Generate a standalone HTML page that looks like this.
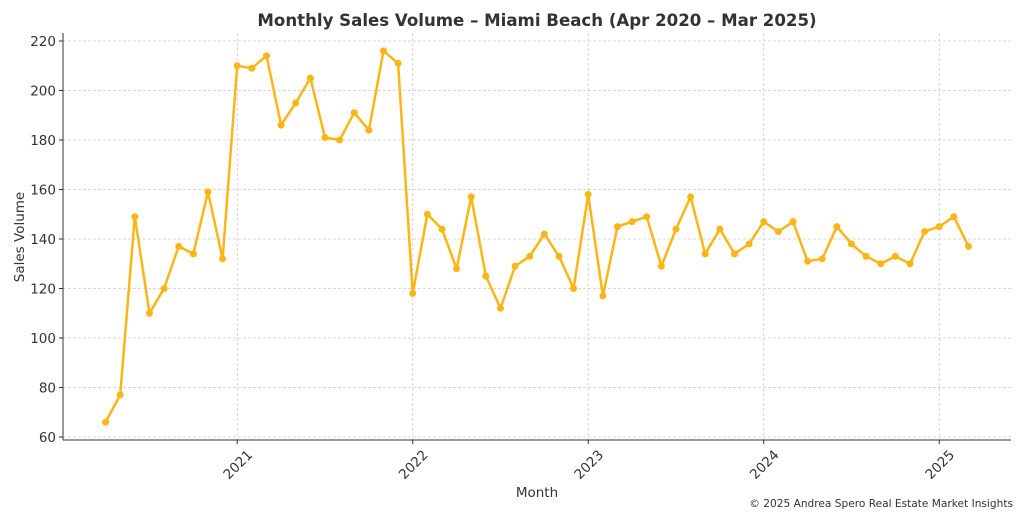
<!DOCTYPE html>
<html><head><meta charset="utf-8"><style>
body{margin:0;background:#fff;}
svg text{font-family:"DejaVu Sans","Liberation Sans",sans-serif;fill:#333;}
</style></head><body>
<svg id="s" width="1024" height="512" xmlns="http://www.w3.org/2000/svg">
<text x="537" y="26" text-anchor="middle" font-size="16.6" font-weight="bold">Monthly Sales Volume – Miami Beach (Apr 2020 – Mar 2025)</text>
<g id="grid" stroke="#ccc" stroke-width="0.8" stroke-dasharray="3,2"></g>
<g id="ticks" font-size="13.5"></g>
<line x1="63" y1="33" x2="63" y2="440" stroke="#333" stroke-width="1"/>
<line x1="63" y1="440" x2="1011" y2="440" stroke="#333" stroke-width="1"/>
<text x="537" y="497" text-anchor="middle" font-size="13.5">Month</text>
<text transform="translate(24,237) rotate(-90)" text-anchor="middle" font-size="13.5">Sales Volume</text>
<text x="1013" y="507" text-anchor="end" font-size="10.6">© 2025 Andrea Spero Real Estate Market Insights</text>
<g id="series"></g>
</svg>
<script>
var d=[66,77,149,110,120,137,134,159,132,210,209,214,186,195,205,181,180,191,184,216,211,118,150,144,128,157,125,112,129,133,142,133,120,158,117,145,147,149,129,144,157,134,144,134,138,147,143,147,131,132,145,138,133,130,133,130,143,145,149,137];
var ns="http://www.w3.org/2000/svg";
function el(t,a,p){var e=document.createElementNS(ns,t);for(var k in a)e.setAttribute(k,a[k]);p.appendChild(e);return e;}
function Y(v){return 437-(v-60)*2.475;}
function X(i){return 105.6+i*14.625;}
var g=document.getElementById('grid'),tk=document.getElementById('ticks'),s=document.getElementById('series');
for(var v=60;v<=220;v+=20){var y=Y(v);el('line',{x1:63,x2:1011,y1:y,y2:y},g);el('line',{x1:59,x2:63,y1:y,y2:y,stroke:'#333'},tk);var t=el('text',{x:56,y:y+5,'text-anchor':'end'},tk);t.textContent=v;}
[2021,2022,2023,2024,2025].forEach(function(yr,j){var x=X(9+12*j);el('line',{x1:x,x2:x,y1:33,y2:440},g);el('line',{x1:x,x2:x,y1:440,y2:444,stroke:'#333'},tk);var t=el('text',{transform:'translate('+(x+1)+',465) rotate(-45)','text-anchor':'middle','dominant-baseline':'middle'},tk);t.textContent=yr;});
var pts=d.map(function(v,i){return X(i).toFixed(1)+','+Y(v).toFixed(1);}).join(' ');
el('polyline',{points:pts,fill:'none',stroke:'#FDB515','stroke-width':2.5,'stroke-linejoin':'round'},s);
d.forEach(function(v,i){el('circle',{cx:X(i),cy:Y(v),r:3.5,fill:'#FDB515'},s);});
</script>
</body></html>
